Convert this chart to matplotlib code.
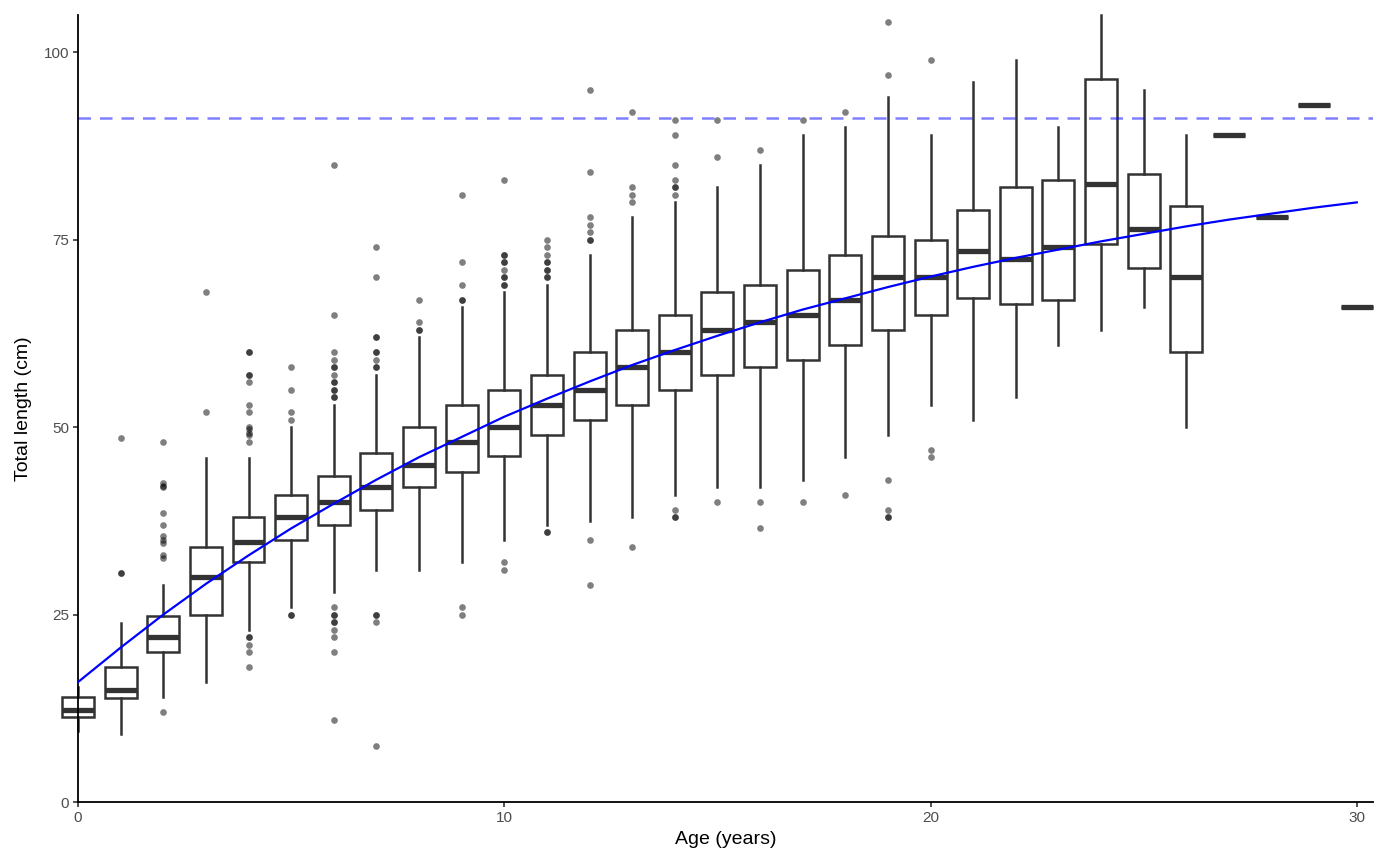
import matplotlib
matplotlib.use("Agg")
import matplotlib.pyplot as plt

plt.rcParams["font.family"] = ["Liberation Sans", "DejaVu Sans"]

# ---- data ----------------------------------------------------------------
ages = list(range(31))
whislo = [9.5, 9.1, 14, 16, 23, 26, 28, 31, 31, 32, 35, 37, 37.5, 38, 41, 42,
          42, 43, 46, 49, 53, 51, 54, 61, 63, 66, 50, 89, 78, 93, 66]
q1 = [11.4, 13.9, 20, 25, 32, 35, 37, 39, 42, 44, 46.2, 49, 51, 53, 55, 57,
      58, 59, 61, 63, 65, 67.2, 66.5, 67, 74.5, 71.2, 60, 89, 78, 93, 66]
med = [12.3, 14.9, 22, 30, 34.7, 38, 40, 42, 45, 48, 50, 53, 55, 58, 60, 63,
       64, 65, 67, 70, 70, 73.5, 72.5, 74, 82.5, 76.5, 70, 89, 78, 93, 66]
q3 = [14.0, 18, 24.8, 34, 38, 41, 43.5, 46.5, 50, 53, 55, 57, 60, 63, 65, 68,
      69, 71, 73, 75.5, 75, 79, 82, 83, 96.5, 83.8, 79.5, 89, 78, 93, 66]
whishi = [15.4, 23.9, 29, 45.9, 45.9, 50, 53, 57, 62, 66, 68, 69, 73, 78, 80,
          82, 85, 89, 90, 94, 89, 96, 99, 90, 105, 95, 89, 89, 78, 93, 66]
# repeated values are overlapping outliers (darker dots)
fliers = [
    [],
    [30.5, 30.5, 48.5],
    [12, 48, 42.5, 42.2, 42, 38.5, 36.9, 35.5, 35, 34.5, 32.9, 32.5],
    [68, 52],
    [60, 60, 57, 57, 56, 53, 52, 50, 49.7, 49.2, 49, 48, 22, 22, 21, 20, 18],
    [58, 55, 52, 51, 25, 25],
    [85, 65, 60, 59, 58, 58, 57, 56, 56, 55, 55, 54, 54, 26, 25, 25, 24, 24,
     23, 22, 20, 11],
    [74, 70, 62, 62, 60, 60, 59, 58, 58, 25, 25, 24, 7.5],
    [67, 64, 63, 63],
    [81, 72, 69, 67, 67, 26, 25],
    [83, 73, 73, 72, 72, 71, 70, 70, 69, 69, 32, 31],
    [75, 74, 73, 72, 72, 71, 71, 70, 70, 36, 36],
    [95, 84, 78, 77, 76, 75, 75, 35, 29],
    [92, 82, 81, 80, 34],
    [91, 89, 85, 83, 82, 82, 81, 39, 38, 38],
    [91, 86, 40],
    [87, 40, 36.5],
    [91, 40],
    [92, 41],
    [104, 97, 43, 39, 38, 38],
    [99, 47, 46],
    [], [], [], [], [], [], [], [], [], [],
]
# fitted growth curve, read at each age
curve = [16.0, 20.6, 25.0, 29.1, 32.9, 36.5, 39.8, 43.0, 46.0, 48.7, 51.4,
         53.8, 56.1, 58.3, 60.3, 62.2, 64.0, 65.7, 67.2, 68.7, 70.1, 71.4,
         72.6, 73.7, 74.8, 75.8, 76.8, 77.7, 78.5, 79.3, 80.0]
l_inf = 91.2

# ---- plot -----------------------------------------------------------------
fig = plt.figure(figsize=(14, 8.66), dpi=100)
ax = fig.add_axes([78 / 1400, 64 / 866, (1373 - 78) / 1400, (802 - 15) / 866])

stats = [dict(whislo=lo, q1=a, med=m, q3=b, whishi=hi, fliers=f)
         for lo, a, m, b, hi, f in zip(whislo, q1, med, q3, whishi, fliers)]
DARK = "#333333"
arts = ax.bxp(stats, positions=ages, widths=0.75, showcaps=False,
              patch_artist=True, manage_ticks=False,
              boxprops=dict(facecolor="white", edgecolor=DARK, linewidth=1.8),
              whiskerprops=dict(color=DARK, linewidth=1.8),
              medianprops=dict(color=DARK, linewidth=3.8, solid_capstyle="butt"),
              flierprops=dict(marker="o", markerfacecolor="black", markeredgecolor="none",
                              markersize=4.8, alpha=0.5))
for group in arts.values():
    for a in group:
        a.set_clip_on(False)

ax.axhline(l_inf, color=(0, 0, 1, 0.5), lw=1.8, ls=(0, (5, 3.6)), zorder=4)
ax.plot(ages, curve, color="blue", lw=1.6, zorder=5)

ax.set_xlim(0, 30.38)
ax.set_ylim(0, 105)
ax.set_xticks([0, 10, 20, 30])
ax.set_yticks([0, 25, 50, 75, 100])
for s in ("top", "right"):
    ax.spines[s].set_visible(False)
for s in ("left", "bottom"):
    ax.spines[s].set_linewidth(1.3)
    ax.spines[s].set_color("black")
ax.tick_params(length=3.5, width=1.2, color=DARK, labelcolor="#4D4D4D",
               labelsize=11, pad=3)
ax.set_xlabel("Age (years)", fontsize=14, labelpad=4)
ax.set_ylabel("Total length (cm)", fontsize=14, labelpad=8)

fig.savefig("out.png", dpi=100)
